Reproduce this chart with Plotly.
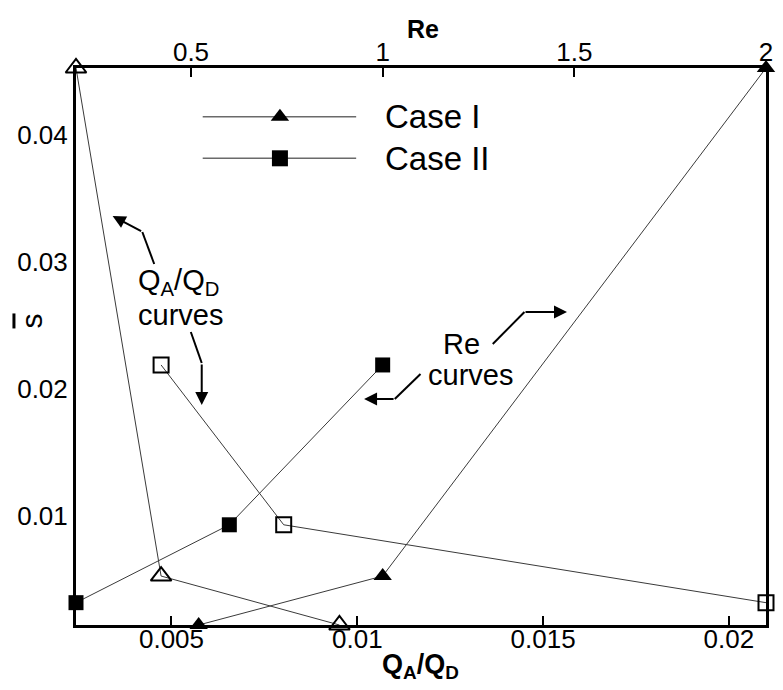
import plotly.graph_objects as go

# Mean slip s-bar against Reynolds number (top axis) and flow-rate ratio Q_A/Q_D (bottom axis)
re_case1 = [0.52, 1.0, 2.0]
re_case2 = [0.2, 0.6, 1.0]
q_case1 = [0.00952, 0.00472, 0.00243]
q_case2 = [0.02100, 0.00802, 0.00472]
s_case1 = [0.00140, 0.00526, 0.04531]
s_case2 = [0.00316, 0.00930, 0.02190]

x_ticks = [0.005, 0.01, 0.015, 0.02]
x_ticktext = ["0.005", "0.01", "0.015", "0.02"]
re_ticks = [0.5, 1, 1.5, 2]
re_ticktext = ["0.5", "1", "1.5", "2"]
y_ticks = [0.01, 0.02, 0.03, 0.04]
y_ticktext = ["0.01", "0.02", "0.03", "0.04"]

FONT = "Liberation Sans, Arial, Helvetica, sans-serif"
W, H = 783, 690
L, R, T, B = 76, 773, 68, 625
LINE = "#3a3a3a"


def px(x):
    return (x - L) / (R - L)


def py(y):
    return (B - y) / (B - T)


fig = go.Figure()

# Re curves (top axis), filled symbols
fig.add_trace(go.Scatter(x=re_case1, y=s_case1, xaxis="x2", yaxis="y", mode="lines+markers",
                         line=dict(color=LINE, width=1),
                         marker=dict(symbol="triangle-up", size=16, color="black"),
                         showlegend=False, cliponaxis=False))
fig.add_trace(go.Scatter(x=re_case2, y=s_case2, xaxis="x2", yaxis="y", mode="lines+markers",
                         line=dict(color=LINE, width=1),
                         marker=dict(symbol="square", size=15, color="black"),
                         showlegend=False, cliponaxis=False))
# Q_A/Q_D curves (bottom axis), open symbols
fig.add_trace(go.Scatter(x=q_case1, y=s_case1, xaxis="x", yaxis="y", mode="lines+markers",
                         line=dict(color=LINE, width=1),
                         marker=dict(symbol="triangle-up-open", size=18, color="black",
                                     line=dict(width=2, color="black")),
                         showlegend=False, cliponaxis=False))
fig.add_trace(go.Scatter(x=q_case2, y=s_case2, xaxis="x", yaxis="y", mode="lines+markers",
                         line=dict(color=LINE, width=1),
                         marker=dict(symbol="square-open", size=15, color="black",
                                     line=dict(width=2, color="black")),
                         showlegend=False, cliponaxis=False))

# Hand-drawn legend on an overlay axis spanning the plot area
legend_rows = [("Case I", "triangle-up", 116.7), ("Case II", "square", 158.3)]
for label, sym, yy in legend_rows:
    fig.add_trace(go.Scatter(x=[px(204), px(359)], y=[py(yy), py(yy)], xaxis="x3", yaxis="y3",
                             mode="lines", line=dict(color="#6a6a6a", width=1.5),
                             showlegend=False, hoverinfo="skip"))
    fig.add_trace(go.Scatter(x=[px(282)], y=[py(yy)], xaxis="x3", yaxis="y3", mode="markers",
                             marker=dict(symbol=sym, size=16, color="black"),
                             showlegend=False, hoverinfo="skip"))
    fig.add_annotation(x=px(386), y=py(yy), xref="paper", yref="paper", text=label,
                       showarrow=False, xanchor="left", yanchor="middle",
                       font=dict(family=FONT, size=33, color="black"))

axis_font = dict(family=FONT, size=26, color="black")
fig.update_layout(
    width=W, height=H,
    margin=dict(l=L, r=W - R, t=T, b=H - B),
    paper_bgcolor="white", plot_bgcolor="white",
    showlegend=False,
    xaxis=dict(range=[min(q_case1 + q_case2), max(q_case1 + q_case2)],
               tickvals=x_ticks, ticktext=x_ticktext, ticks="inside", ticklen=9,
               tickwidth=2, tickcolor="black", showgrid=False, zeroline=False,
               showline=True, linewidth=3, linecolor="black", tickfont=axis_font,
               ticklabelstandoff=-11),
    xaxis2=dict(range=[min(re_case1 + re_case2), max(re_case1 + re_case2)], overlaying="x",
                side="top", tickvals=re_ticks, ticktext=re_ticktext, ticks="inside",
                ticklen=9, tickwidth=2, tickcolor="black", showgrid=False, zeroline=False,
                showline=True, linewidth=3, linecolor="black", tickfont=axis_font,
                ticklabelstandoff=-6),
    yaxis=dict(range=[min(s_case1 + s_case2), max(s_case1 + s_case2)],
               tickvals=y_ticks, ticktext=y_ticktext, ticks="", showgrid=False,
               zeroline=False, showline=True, mirror=True, linewidth=3, linecolor="black",
               tickfont=axis_font),
    xaxis3=dict(range=[0, 1], overlaying="x", visible=False),
    yaxis3=dict(range=[0, 1], overlaying="y", visible=False),
)

# Axis titles
fig.add_annotation(x=px(427), y=py(29), xref="paper", yref="paper", text="<b>Re</b>",
                   showarrow=False, xanchor="center", yanchor="middle",
                   font=dict(family=FONT, size=25, color="black"))
fig.add_annotation(x=px(424), y=py(666), xref="paper", yref="paper",
                   text="<b>Q<sub>A</sub>/Q<sub>D</sub></b>", xanchor="center", yanchor="middle",
                   showarrow=False, font=dict(family=FONT, size=27, color="black"))
fig.add_annotation(x=px(31), y=py(321), xref="paper", yref="paper",
                   text='<span style="text-decoration:overline">s</span>',
                   textangle=-90, showarrow=False, xanchor="center", yanchor="middle",
                   font=dict(family=FONT, size=30, color="black"))

# Curve labels
txt_font = dict(family=FONT, size=29, color="black")
fig.add_annotation(x=px(137), y=py(282), xref="paper", yref="paper",
                   text="Q<sub>A</sub>/Q<sub>D</sub>", showarrow=False, xanchor="left",
                   yanchor="middle", font=txt_font)
fig.add_annotation(x=px(137), y=py(315), xref="paper", yref="paper", text="curves",
                   showarrow=False, xanchor="left", yanchor="middle", font=txt_font)
fig.add_annotation(x=px(445), y=py(344), xref="paper", yref="paper", text="Re",
                   showarrow=False, xanchor="left", yanchor="middle", font=txt_font)
fig.add_annotation(x=px(430), y=py(375), xref="paper", yref="paper", text="curves",
                   showarrow=False, xanchor="left", yanchor="middle", font=txt_font)

# Bent pointer arrows: first leg as a path, second leg with arrowhead
arrows = [
    [(155, 264), (143, 232), (113, 216)],
    [(192, 332), (203, 363), (203, 405)],
    [(497, 344), (529, 312), (572, 312)],
    [(424, 374), (398, 399), (367, 399)],
]
for (x0, y0), (x1, y1), (x2, y2) in arrows:
    fig.add_shape(type="line", xref="paper", yref="paper", x0=px(x0), y0=py(y0),
                  x1=px(x1), y1=py(y1), line=dict(color="black", width=2))
    fig.add_annotation(x=px(x2), y=py(y2), xref="paper", yref="paper", text="",
                       showarrow=True, ax=x1 - x2, ay=y1 - y2, axref="pixel", ayref="pixel",
                       arrowhead=2, arrowsize=1.3, arrowwidth=2, arrowcolor="black", standoff=0)

fig.write_html("out.html")
